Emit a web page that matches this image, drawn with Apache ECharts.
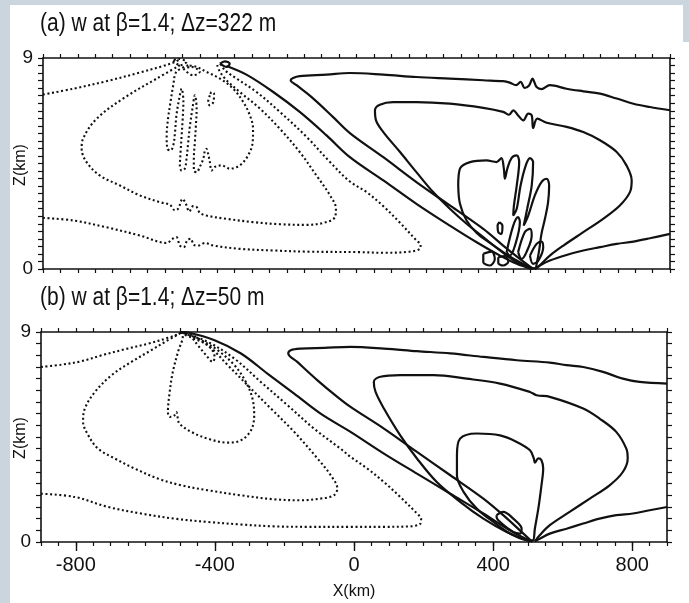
<!DOCTYPE html>
<html>
<head>
<meta charset="UTF-8">
<script src="https://cdn.jsdelivr.net/npm/echarts@6/dist/echarts.min.js"></script>
<style>
  html, body { margin: 0; padding: 0; background: #fff; }
  #chart { width: 689px; height: 603px; }
</style>
</head>
<body>
<div id="chart"></div>
<script>
// ===== axis values =====
var xMajor = [-800, -400, 0, 400, 800];
var zLabels = [0, 9];
var titleA = '(a) w at \u03b2=1.4; \u0394z=322 m';
var titleB = '(b) w at \u03b2=1.4; \u0394z=50 m';

// ===== panel (a): dz = 322 m, contours [x km, z km] =====
// dotted (negative w)
var aNegTop = [[-900,7.44],[-813,7.69],[-718,8.01],[-622,8.38],[-555,8.66],[-521,8.83],[-507,8.95]];
var aNegBig = [[-507,8.69],[-574,8.12],[-670,7.27],[-746,6.41],[-785,5.56],[-789,5.13],[-775,4.56],[-737,3.99],
  [-679,3.56],[-622,3.14],[-564,2.85],[-536,2.74],[-521,2.50],[-512,2.57],[-499,2.99],[-490,2.78],[-480,2.45],
  [-469,2.68],[-459,2.64],[-450,2.40],[-431,2.28],[-373,2.14],[-297,2.00],[-220,1.91],[-143,1.88],[-86,2.00],
  [-62,2.21],[-59,2.57],[-76,3.14],[-115,3.99],[-163,4.99],[-220,5.98],[-277,6.84],[-335,7.55],[-373,8.05],[-392,8.41],[-400,8.7]];
var aNegOuter = [[-900,2.18],[-813,2.07],[-718,1.78],[-622,1.43],[-545,1.11],[-528,1.29],[-517,1.36],[-507,1.00],
  [-496,0.93],[-486,1.22],[-476,1.29],[-467,1.03],[-454,1.00],[-435,1.11],[-411,1.00],[-335,0.86],[-239,0.79],
  [-143,0.74],[10,0.72],[77,0.69],[153,0.74],[182,0.86],[184,1.03],[172,1.22],[125,1.97],[77,2.68],[29,3.28],
  [-19,3.73],[-76,4.56],[-143,5.63],[-220,6.70],[-287,7.55],[-344,8.12],[-378,8.48],[-392,8.8]];
var aNegLobe = [[-483,8.69],[-517,8.41],[-526,7.84],[-534,7.12],[-541,6.41],[-545,5.70],[-543,5.13],[-534,5.06],
  [-526,5.27],[-521,5.84],[-517,6.55],[-509,7.27],[-502,7.69],[-497,7.12],[-499,6.41],[-502,5.70],[-505,4.99],
  [-507,4.42],[-502,4.20],[-493,4.28],[-488,4.70],[-483,5.42],[-478,6.13],[-471,6.84],[-464,7.41],[-459,6.84],
  [-461,6.13],[-464,5.42],[-467,4.70],[-467,4.20],[-459,4.13],[-450,4.35],[-440,4.70],[-435,5.06],[-431,5.13],
  [-426,4.92],[-421,4.56],[-416,4.20],[-407,4.35],[-387,4.42],[-364,4.28],[-335,4.42],[-311,4.85],[-298,5.42],
  [-297,5.98],[-306,6.55],[-325,7.12],[-354,7.69],[-392,8.12],[-431,8.41],[-459,8.62],[-483,8.69]];
var aNegFinger = [[-421,7.41],[-426,7.12],[-421,6.98],[-411,7.12],[-409,7.48],[-416,7.55],[-421,7.41]];
var aNegKnotA = [[-526,8.90],[-507,8.69],[-488,8.83],[-512,8.97],[-526,8.90]];
var aNegKnotB = [[-497,8.55],[-469,8.26],[-450,8.41],[-474,8.62],[-497,8.55]];
// solid (positive w)
var aPosKnot = [[-392,8.76],[-373,8.62],[-364,8.76],[-378,8.86],[-392,8.76]];
var aPosApex = [[-373,8.66],[-316,8.29],[-239,7.55],[-163,6.70],[-86,5.70],[-19,4.77],[77,3.78],[172,2.78],
  [268,1.85],[345,1.14],[412,0.57],[460,0.22],[503,0]];
var aPosTop = [[900,6.77],[842,6.91],[795,7.05],[747,7.27],[699,7.48],[651,7.58],[603,7.69],[555,7.84],[531,7.67],
  [517,7.76],[505,8.12],[496,7.84],[483,7.72],[471,7.98],[458,7.84],[440,7.95],[421,8.01],[364,8.05],[268,8.12],
  [172,8.19],[77,8.29],[-19,8.36],[-86,8.29],[-163,8.23],[-182,8.15],[-189,8.05],[-172,7.84],[-124,7.27],
  [-67,6.48],[-19,5.80],[77,4.77],[172,3.71],[268,2.71],[364,1.71],[421,1.00],[469,0.43],[507,0]];
var aPosMid = [[507,0],[460,0.29],[412,0.79],[364,1.36],[316,1.93],[268,2.57],[220,3.28],[172,4.13],[125,4.99],
  [77,5.84],[56,6.34],[53,6.77],[67,7.01],[105,7.12],[172,7.12],[268,7.05],[364,6.87],[421,6.70],[438,6.58],
  [450,6.77],[464,6.55],[479,6.34],[493,6.63],[503,6.55],[507,6.01],[519,6.41],[546,6.24],[603,6.06],[651,5.84],
  [699,5.49],[747,4.99],[775,4.42],[790,3.78],[785,3.28],[756,2.71],[708,2.14],[651,1.57],[594,1.00],[555,0.57],
  [527,0.17],[512,0]];
var aPosCore = [[292,3.56],[297,4.28],[326,4.56],[373,4.63],[402,4.56],[416,4.73],[423,4.28],[426,3.85],[433,4.28],
  [445,4.73],[460,4.85],[467,4.56],[460,3.56],[452,2.71],[450,2.28],[460,2.57],[471,3.56],[486,4.42],[498,4.73],
  [507,4.56],[503,3.56],[490,2.57],[480,1.85],[493,2.28],[512,3.14],[531,3.71],[546,3.85],[553,3.56],[550,2.85],
  [541,2.14],[531,1.50],[525,0.86],[519,0.36],[512,0.03],[498,0.07],[460,0.36],[421,0.72],[383,1.11],[345,1.54],
  [316,2.07],[297,2.78],[292,3.56]];
var aPosSmall = [[410,2.00],[419,1.85],[416,1.50],[407,1.57],[405,1.85],[410,2.00]];
var aPosF1 = [[431,0.72],[450,1.85],[464,2.21],[469,2.00],[455,1.00],[440,0.57],[431,0.72]];
var aPosF2 = [[464,0.72],[483,1.57],[498,1.71],[503,1.43],[488,0.72],[474,0.43],[464,0.72]];
var aPosF3 = [[498,0.57],[517,1.07],[531,1.17],[536,0.93],[522,0.36],[507,0.22],[498,0.57]];
var aPosR1 = [[364,0.65],[388,0.74],[397,0.43],[383,0.15],[364,0.29],[364,0.65]];
var aPosR2 = [[407,0.50],[426,0.55],[436,0.32],[421,0.15],[407,0.26],[407,0.50]];
var aPosLow = [[900,1.50],[842,1.31],[795,1.17],[747,1.07],[699,0.93],[651,0.79],[603,0.60],[555,0.36],[527,0.15],[512,0]];

// ===== panel (b): dz = 50 m =====
var bNegTop = [[-900,7.50],[-841,7.60],[-783,7.75],[-726,8.00],[-659,8.26],[-592,8.50],[-535,8.75],[-502,8.93],[-497,9.00]];
var bNegOuter = [[-900,2.07],[-803,1.93],[-707,1.50],[-612,1.22],[-516,1.00],[-421,0.86],[-325,0.75],[-230,0.67],
  [-134,0.65],[-10,0.65],[86,0.65],[162,0.67],[191,0.79],[193,1.00],[181,1.22],[133,1.93],[86,2.57],[38,3.15],
  [-10,3.65],[-39,4.00],[-115,4.86],[-191,5.86],[-268,6.86],[-344,7.86],[-421,8.58],[-487,8.93],[-497,9.00]];
var bNegBig = [[-497,9.00],[-487,8.89],[-421,8.43],[-363,7.58],[-306,6.72],[-239,5.72],[-172,4.72],[-105,3.58],[-67,2.86],
  [-48,2.29],[-58,2.00],[-96,1.86],[-153,1.79],[-230,1.83],[-325,2.00],[-421,2.22],[-497,2.43],[-564,2.72],
  [-631,3.15],[-688,3.58],[-736,4.00],[-764,4.57],[-779,5.15],[-774,5.72],[-745,6.43],[-697,7.15],[-640,7.72],
  [-583,8.22],[-535,8.65],[-502,8.93],[-497,9.00]];
var bNegLobe = [[-497,9.00],[-492,8.86],[-506,8.15],[-521,7.29],[-530,6.43],[-535,5.57],[-530,5.36],[-518,5.40],[-511,5.57],
  [-506,5.26],[-502,5.07],[-468,4.72],[-421,4.43],[-363,4.26],[-325,4.36],[-296,4.79],[-287,5.43],[-292,6.15],
  [-311,6.86],[-344,7.58],[-392,8.22],[-440,8.65],[-478,8.89],[-497,9.00]];
var bNegSmall = [[-497,9.00],[-473,8.86],[-449,8.43],[-425,8.00],[-406,7.72],[-401,7.93],[-411,8.29],[-440,8.65],[-464,8.86],[-497,9.00]];
var bPosApex = [[-497,9.00],[-478,8.98],[-401,8.65],[-325,8.08],[-249,7.22],[-172,6.36],[-96,5.50],[-10,4.72],[86,3.79],
  [181,2.93],[277,2.07],[372,1.22],[448,0.50],[510,0.03]];
var bPosTop = [[900,6.79],[821,6.86],[773,7.00],[716,7.29],[659,7.50],[611,7.58],[563,7.69],[468,7.79],[372,7.93],
  [277,8.08],[181,8.18],[86,8.29],[-10,8.36],[-86,8.32],[-153,8.29],[-182,8.22],[-189,8.08],[-163,7.72],
  [-105,6.93],[-48,6.22],[-10,5.79],[86,4.86],[181,3.86],[277,2.86],[372,1.86],[429,1.15],[477,0.50],[513,0]];
var bPosMid = [[506,0.03],[439,0.43],[372,1.00],[305,1.72],[238,2.57],[181,3.58],[133,4.57],[86,5.72],[62,6.43],
  [57,6.86],[76,7.08],[133,7.15],[229,7.15],[324,7.00],[420,6.79],[506,6.43],[525,6.29],[563,6.22],[659,5.72],
  [706,5.29],[754,4.72],[783,4.00],[787,3.58],[773,3.00],[735,2.43],[678,1.86],[620,1.29],[563,0.72],[534,0.29],[520,0.03]];
var bPosCore = [[296,3.72],[305,4.43],[353,4.65],[420,4.57],[468,4.29],[506,3.93],[517,3.58],[520,3.40],[530,3.58],
  [539,3.50],[544,3.15],[539,2.43],[530,1.43],[520,0.57],[515,0.07],[506,0.07],[458,0.29],[401,0.86],[353,1.43],
  [315,2.15],[296,2.86],[296,3.72]];
var bPosSmall = [[410,1.15],[429,1.29],[458,1.00],[482,0.57],[477,0.36],[458,0.43],[425,0.79],[410,1.07],[410,1.15]];
var bPosLow = [[900,1.50],[850,1.36],[802,1.22],[754,1.15],[706,1.00],[659,0.79],[611,0.57],[563,0.36],[534,0.14],[520,0.03]];

var aNeg = [aNegTop, aNegBig, aNegOuter, aNegLobe, aNegFinger, aNegKnotA, aNegKnotB];
var aPos = [aPosKnot, aPosApex, aPosTop, aPosMid, aPosCore, aPosSmall, aPosF1, aPosF2, aPosF3, aPosR1, aPosR2, aPosLow];
var bNeg = [bNegTop, bNegOuter, bNegBig, bNegLobe, bNegSmall];
var bPos = [bPosApex, bPosTop, bPosMid, bPosCore, bPosSmall, bPosLow];

var FONT = 'Liberation Sans';
var yTicksA = [];
for (var k = 0; k <= 28; k++) yTicksA.push(9 * k / 28);

function line(data, xi, dotted) {
  return {
    type: 'line', xAxisIndex: xi, yAxisIndex: xi, data: data,
    showSymbol: false, symbol: 'none', smooth: 0.35, silent: true, animation: false,
    lineStyle: dotted ? { color: '#111', width: 2.1, type: [2, 2.6], cap: 'butt' }
                      : { color: '#111', width: 2.2 }
  };
}

function xAx(grid, pos) {
  return {
    type: 'value', gridIndex: grid, position: pos, min: -900, max: 900, interval: 50,
    axisLine: { onZero: false, lineStyle: { color: '#111', width: 1.6 } },
    axisTick: { length: 4, lineStyle: { color: '#111', width: 1.2 } },
    axisLabel: { show: false }, splitLine: { show: false }
  };
}
function yAx(grid, pos, ticks, labels) {
  var o = {
    type: 'value', gridIndex: grid, position: pos, min: 0, max: 9,
    axisLine: { onZero: false, lineStyle: { color: '#111', width: 1.6 } },
    axisTick: { length: 5, lineStyle: { color: '#111', width: 1.2 } },
    axisLabel: { show: labels, customValues: zLabels, margin: 10, color: '#111', fontFamily: FONT, fontSize: 19 },
    splitLine: { show: false }
  };
  if (ticks) o.axisTick.customValues = ticks; else o.interval = 0.5;
  return o;
}

var series = [];
aNeg.forEach(function (d) { series.push(line(d, 0, true)); });
aPos.forEach(function (d) { series.push(line(d, 0, false)); });
bNeg.forEach(function (d) { series.push(line(d, 1, true)); });
bPos.forEach(function (d) { series.push(line(d, 1, false)); });

var xAxes = [xAx(0, 'bottom'), xAx(1, 'bottom'), xAx(0, 'top'), xAx(1, 'top'),
  { type: 'value', gridIndex: 1, position: 'bottom', min: -900, max: 900,
    axisLine: { show: false, onZero: false }, splitLine: { show: false },
    axisTick: { length: 9, customValues: xMajor, lineStyle: { color: '#111', width: 1.4 } },
    axisLabel: { customValues: xMajor, margin: 13, color: '#111', fontFamily: FONT, fontSize: 20 },
    name: 'X(km)', nameLocation: 'middle', nameGap: 42,
    nameTextStyle: { color: '#111', fontFamily: FONT, fontSize: 16 } }];
var yAxes = [yAx(0, 'left', yTicksA, true), yAx(1, 'left', null, true),
  yAx(0, 'right', yTicksA, false), yAx(1, 'right', null, false)];

var titleStyle = { fontFamily: FONT, fontSize: 25, fill: '#111' };
var zNameStyle = { text: 'Z(km)', fontFamily: FONT, fontSize: 16, fill: '#111', align: 'center', verticalAlign: 'middle' };

var chart = echarts.init(document.getElementById('chart'), null, { renderer: 'canvas' });
chart.setOption({
  backgroundColor: '#fff',
  animation: false,
  grid: [
    { left: 43, top: 58, width: 627, height: 211, containLabel: false, outerBoundsMode: 'none' },
    { left: 41, top: 332, width: 626, height: 210, containLabel: false, outerBoundsMode: 'none' }
  ],
  xAxis: xAxes,
  yAxis: yAxes,
  graphic: [
    { type: 'rect', shape: { x: 0, y: 0, width: 10, height: 603 }, style: { fill: '#cbd5dd' } },
    { type: 'rect', shape: { x: 0, y: 0, width: 689, height: 5 }, style: { fill: '#cbd5dd' } },
    { type: 'rect', shape: { x: 683, y: 0, width: 6, height: 42 }, style: { fill: '#cbd5dd' } },
    { type: 'text', x: 40, y: 24, scaleX: 0.84,
      style: Object.assign({ text: titleA, verticalAlign: 'middle' }, titleStyle) },
    { type: 'text', x: 40, y: 298, scaleX: 0.84,
      style: Object.assign({ text: titleB, verticalAlign: 'middle' }, titleStyle) },
    { type: 'text', x: 21, y: 165, rotation: Math.PI / 2, style: zNameStyle },
    { type: 'text', x: 21, y: 438, rotation: Math.PI / 2, style: zNameStyle }
  ],
  series: series
});
</script>
</body>
</html>
